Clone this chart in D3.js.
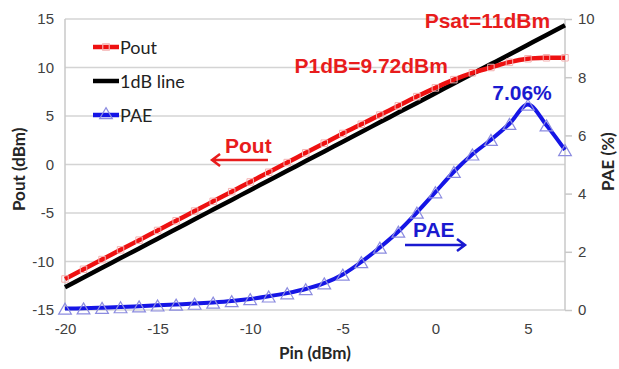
<!DOCTYPE html>
<html>
<head>
<meta charset="utf-8">
<script src="https://cdn.jsdelivr.net/npm/d3@7"></script>
<style>
	body { margin: 0; background: #fff; }
	svg { font-family: Lato, "Open Sans", sans-serif; }
	.tick-label { font-size: 15px; fill: #404040; }
	.axis-title { font-size: 17px; font-weight: bold; fill: #262626; }
	.note { font-family: "Liberation Sans", Arial, sans-serif; font-size: 21px; font-weight: bold; }
</style>
</head>
<body>
<div id="chart"></div>
<script>
var pin = [-20,-19,-18,-17,-16,-15,-14,-13,-12,-11,-10,-9,-8,-7,-6,-5,-4,-3,-2,-1,0,1,2,3,4,5,6,7];
var pout = [-11.8,-10.8,-9.8,-8.8,-7.8,-6.8,-5.8,-4.8,-3.8,-2.8,-1.8,-0.8,0.2,1.2,2.2,3.2,4.15,5.1,6.05,7.0,7.9,8.75,9.45,10.0,10.55,10.9,11.0,11.0];
var line1dB = [-12.65,-11.65,-10.65,-9.65,-8.65,-7.65,-6.65,-5.65,-4.65,-3.65,-2.65,-1.65,-0.65,0.35,1.35,2.35,3.35,4.35,5.35,6.35,7.35,8.35,9.35,10.35,11.35,12.35,13.35,14.35];
var pae = [0.05,0.06,0.08,0.10,0.13,0.16,0.19,0.22,0.26,0.31,0.38,0.47,0.58,0.72,0.92,1.22,1.65,2.15,2.70,3.35,4.05,4.75,5.35,5.85,6.40,7.06,6.35,5.50];

var xTicks = [-20,-15,-10,-5,0,5];
var leftTicks = [-15,-10,-5,0,5,10,15];
var rightTicks = [0,2,4,6,8,10];

var W = 619, H = 369;
var pad = {l:65, r:54, t:19, b:59};

var svg = d3.select('#chart').append('svg')
		.attr('width', W)
		.attr('height', H);

var x = d3.scaleLinear().domain([-20, 7]).range([pad.l, W - pad.r]);
var yL = d3.scaleLinear().domain([-15, 15]).range([H - pad.b, pad.t]);
var yR = d3.scaleLinear().domain([0, 10]).range([H - pad.b, pad.t]);
var fmt = d => String(d);

// gridlines
svg.append('g').selectAll('line')
	.data(leftTicks).enter()
	.append('line')
		.attr('x1', x(-20)).attr('x2', x(7))
		.attr('y1', d => yL(d)).attr('y2', d => yL(d))
		.attr('stroke', '#d4d4d4')
		.attr('stroke-width', 1.5);

// plot side lines
svg.append('line')
	.attr('x1', x(-20)).attr('x2', x(-20))
	.attr('y1', yL(-15)).attr('y2', yL(15))
	.attr('stroke', '#c8c8c8').attr('stroke-width', 1.5);
svg.append('line')
	.attr('x1', x(7)).attr('x2', x(7))
	.attr('y1', yL(-15)).attr('y2', yL(15))
	.attr('stroke', '#c8c8c8').attr('stroke-width', 1.5);

// left axis labels
var gl = svg.append('g')
	.attr('transform', 'translate(' + (pad.l - 11) + ',0)')
	.call(d3.axisLeft(yL).tickValues(leftTicks).tickFormat(fmt).tickSize(0).tickPadding(0));
gl.select('.domain').remove();
gl.selectAll('text').attr('class', 'tick-label').attr('font-size', null).attr('fill', null).attr('font-family', null);

// right axis
var gr = svg.append('g')
	.attr('transform', 'translate(' + x(7) + ',0)')
	.call(d3.axisRight(yR).tickValues(rightTicks).tickFormat(fmt).tickSize(7).tickPadding(6));
gr.select('.domain').remove();
gr.selectAll('line').attr('stroke', '#c8c8c8').attr('stroke-width', 1.5);
gr.selectAll('text').attr('class', 'tick-label').attr('font-size', null).attr('fill', null).attr('font-family', null);

// bottom axis
var gb = svg.append('g')
	.attr('transform', 'translate(0,' + (yL(-15) + 7) + ')')
	.call(d3.axisBottom(x).tickValues(xTicks).tickFormat(fmt).tickSize(0).tickPadding(6));
gb.select('.domain').remove();
gb.selectAll('text').attr('class', 'tick-label').attr('font-size', null).attr('fill', null).attr('font-family', null);

// axis titles
svg.append('text')
	.attr('class', 'axis-title')
	.attr('transform', 'translate(18,' + yL(-0.5) + ') rotate(-90)')
	.attr('text-anchor', 'middle')
	.attr('dominant-baseline', 'central')
	.text('Pout (dBm)');
svg.append('text')
	.attr('class', 'axis-title')
	.attr('transform', 'translate(607,' + yR(5.1) + ') rotate(-90)')
	.attr('text-anchor', 'middle')
	.attr('dominant-baseline', 'central')
	.text('PAE (%)');
svg.append('text')
	.attr('class', 'axis-title')
	.attr('x', (x(-20) + x(7)) / 2)
	.attr('y', 359)
	.attr('text-anchor', 'middle')
	.text('Pin (dBm)');

// series
var curve = d3.curveCatmullRom;
var lineL = function(vals) {
	return d3.line().curve(curve).x((d, i) => x(pin[i])).y(d => yL(d))(vals);
};
var lineR = function(vals) {
	return d3.line().curve(curve).x((d, i) => x(pin[i])).y(d => yR(d))(vals);
};

svg.append('path')
	.attr('d', lineL(line1dB))
	.attr('fill', 'none')
	.attr('stroke', '#000')
	.attr('stroke-width', 4.5);

svg.append('path')
	.attr('d', lineL(pout))
	.attr('fill', 'none')
	.attr('stroke', '#ee1111')
	.attr('stroke-width', 4.5);

svg.append('g').selectAll('path')
	.data(pout).enter()
	.append('path')
		.attr('d', d3.symbol().type(d3.symbolSquare).size(42))
		.attr('transform', (d, i) => 'translate(' + x(pin[i]) + ',' + yL(d) + ')')
		.attr('fill', 'none')
		.attr('stroke', '#f4b0b0')
		.attr('stroke-width', 1);

svg.append('path')
	.attr('d', lineR(pae))
	.attr('fill', 'none')
	.attr('stroke', '#1515e6')
	.attr('stroke-width', 4);

svg.append('g').selectAll('path')
	.data(pae).enter()
	.append('path')
		.attr('d', d3.symbol().type(d3.symbolTriangle).size(70))
		.attr('transform', (d, i) => 'translate(' + x(pin[i]) + ',' + (yR(d) + 2) + ')')
		.attr('fill', 'none')
		.attr('stroke', '#8c8ce0')
		.attr('stroke-width', 1.2);

// legend
var legend = [
	{name:'Pout', color:'#ee1111', marker:d3.symbolSquare, mc:'#f4b0b0'},
	{name:'1dB line', color:'#000', marker:null},
	{name:'PAE', color:'#1515e6', marker:d3.symbolTriangle, mc:'#8c8ce0'}
];
var lg = svg.append('g').selectAll('g')
	.data(legend).enter()
	.append('g')
		.attr('transform', (d, i) => 'translate(93,' + (47 + i * 34) + ')');
lg.append('line')
	.attr('x1', 0).attr('x2', 26)
	.attr('stroke', d => d.color)
	.attr('stroke-width', 4.5);
lg.filter(d => d.marker).append('path')
	.attr('d', d => d3.symbol().type(d.marker).size(d.marker === d3.symbolSquare ? 42 : 70)())
	.attr('transform', 'translate(13,0)')
	.attr('fill', 'none')
	.attr('stroke', d => d.mc)
	.attr('stroke-width', 1.2);
lg.append('text')
	.attr('x', 27)
	.attr('dominant-baseline', 'central')
	.style('font-size', '18px')
	.attr('fill', '#222')
	.text(d => d.name);

// annotations
svg.append('text')
	.attr('class', 'note')
	.attr('x', x(6.2)).attr('y', yL(14.05))
	.attr('text-anchor', 'end')
	.attr('fill', '#e81c1c')
	.text('Psat=11dBm');
svg.append('text')
	.attr('class', 'note')
	.attr('x', x(0.68)).attr('y', yL(9.45))
	.attr('text-anchor', 'end')
	.attr('fill', '#e81c1c')
	.text('P1dB=9.72dBm');
svg.append('text')
	.attr('class', 'note')
	.attr('x', x(4.68)).attr('y', yR(7.2))
	.attr('text-anchor', 'middle')
	.attr('fill', '#1a1ad0')
	.text('7.06%');

svg.append('text')
	.attr('class', 'note')
	.attr('x', x(-11.36)).attr('y', yL(1.2))
	.attr('fill', '#e81c1c')
	.text('Pout');
svg.append('path')
	.attr('d', 'M' + x(-9.04) + ',' + yL(0.46) + 'H' + x(-12.06)
		+ 'M' + (x(-12.06) + 8) + ',' + (yL(0.46) - 6) + 'L' + x(-12.06) + ',' + yL(0.46)
		+ 'L' + (x(-12.06) + 8) + ',' + (yL(0.46) + 6))
	.attr('fill', 'none')
	.attr('stroke', '#e81c1c')
	.attr('stroke-width', 2.5);

svg.append('text')
	.attr('class', 'note')
	.attr('x', x(-1.21)).attr('y', yR(2.5))
	.attr('fill', '#1a1ad0')
	.text('PAE');
svg.append('path')
	.attr('d', 'M' + x(-1.64) + ',' + yR(2.23) + 'H' + x(1.6)
		+ 'M' + (x(1.6) - 8) + ',' + (yR(2.23) - 6) + 'L' + x(1.6) + ',' + yR(2.23)
		+ 'L' + (x(1.6) - 8) + ',' + (yR(2.23) + 6))
	.attr('fill', 'none')
	.attr('stroke', '#1a1ad0')
	.attr('stroke-width', 2.5);
</script>
</body>
</html>
